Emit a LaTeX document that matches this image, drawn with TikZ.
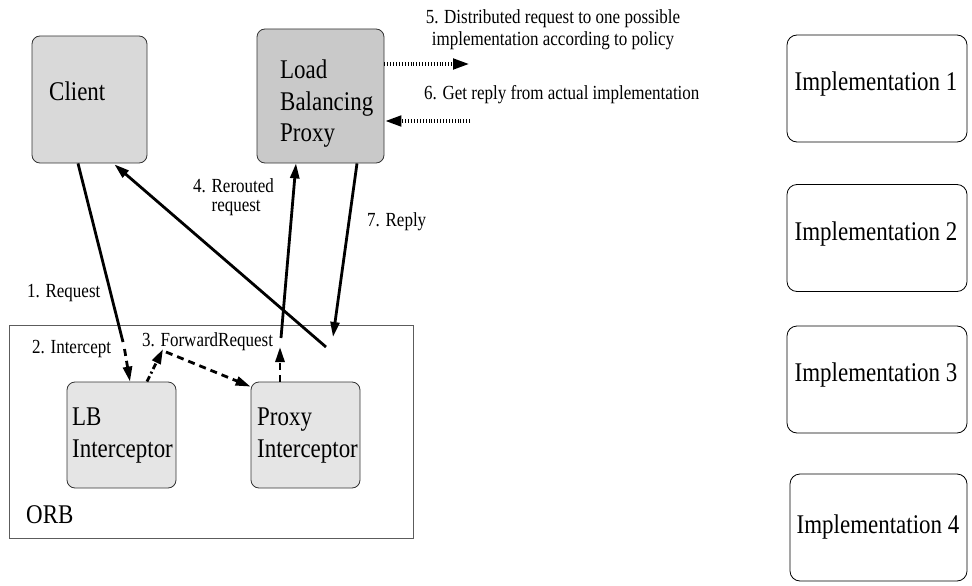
\documentclass[tikz,border=0pt]{standalone}
\usepackage{fontspec}
\setmainfont{Liberation Serif}[FakeStretch=0.85]
\usetikzlibrary{arrows.meta,calc}

\newcommand\bigtxt{\fontsize{27}{31.5}\selectfont}
\newcommand\smalltxt{\fontsize{20}{18.5}\selectfont}

\definecolor{clientfill}{HTML}{D9D9D9}
\definecolor{proxyfill}{HTML}{C9C9C9}
\definecolor{icptfill}{HTML}{E5E5E5}
\definecolor{edge}{HTML}{333333}

\tikzset{
  box/.style={draw=edge, line width=0.8pt, rounded corners=8pt, inner sep=0pt},
  implbox/.style={draw=black, line width=0.8pt, fill=white, rounded corners=10pt,
    minimum width=180pt, minimum height=107pt, inner sep=0pt},
  bigtext/.style={font=\bigtxt, inner sep=0pt},
  smalltext/.style={font=\smalltxt, inner sep=0pt},
  flow/.style={line width=2.8pt},
  tip/.style={-{Triangle[length=15pt,width=9pt]}},
  dashflow/.style={flow, dash pattern=on 7pt off 5pt},
  dashdotflow/.style={flow, dash pattern=on 6pt off 3pt on 2pt off 3pt},
  dotflow/.style={line width=4.5pt, dash pattern=on 0.9pt off 2pt,
    -{Triangle[length=17pt,width=10pt]}},
}

\begin{document}
\begin{tikzpicture}[x=1pt, y=-1pt]
\useasboundingbox (0,0) rectangle (972,586);

% ORB frame
\draw[draw=edge!80, line width=0.8pt] (9,325) rectangle (413,538);
\node[bigtext, anchor=base west] (orb) at (26,523) {ORB};

% client and load balancing proxy
\node[box, fill=clientfill, minimum width=115pt, minimum height=127pt] (client) at (89.5,99.5) {};
\node[bigtext, anchor=base west] (clienttext) at (49,100) {Client};

\node[box, fill=proxyfill, minimum width=127pt, minimum height=134pt] (lbp) at (320.5,96) {};
\node[bigtext, anchor=north west, align=left] (lbptext) at (280,60) {Load\\Balancing\\Proxy};

% interceptors inside the ORB
\node[box, fill=icptfill, minimum width=109pt, minimum height=106pt] (lbi) at (121.5,435) {};
\node[bigtext, anchor=north west, align=left] (lbitext) at (72,408) {LB\\Interceptor};

\node[box, fill=icptfill, minimum width=109pt, minimum height=106pt] (pi) at (305.5,435) {};
\node[bigtext, anchor=north west, align=left] (pitext) at (257,408) {Proxy\\Interceptor};

% implementations
\node[implbox] (impl1) at (877,88.5) {};
\node[bigtext, anchor=base] (impl1text) at (876,90) {Implementation 1};
\node[implbox] (impl2) at (877,238) {};
\node[bigtext, anchor=base] (impl2text) at (876,240) {Implementation 2};
\node[implbox] (impl3) at (877,379.5) {};
\node[bigtext, anchor=base] (impl3text) at (876,381) {Implementation 3};
\node[implbox, minimum width=177pt] (impl4) at (878.5,527.5) {};
\node[bigtext, anchor=base] (impl4text) at (878,533) {Implementation 4};

% helper points along the message path
\coordinate (reqbreak) at (123,342);
\coordinate (reqresume) at (124.5,349);
\coordinate (fwd) at (163,349);
\coordinate (fwdstart) at (166,352);
\coordinate (reroute) at (280,347);
\coordinate (rerouteup) at (281,338);
\coordinate (replyend) at (333,337);
\coordinate (backstart) at (326,347);
\coordinate (out5) at (470,64);
\coordinate (in6) at (470,121);

% 1. request and 2. intercept
\draw[flow] ([xshift=-11.5pt]client.south) -- (reqbreak);
\draw[dashflow, tip] (reqresume) -- ([xshift=8.5pt]lbi.north);

% 3. forward request
\draw[dashdotflow, tip] ([xshift=25.5pt]lbi.north) -- (fwd);
\draw[dashflow, tip] (fwdstart) -- ([yshift=-5pt]pi.north west);

% 4. rerouted request
\draw[dashflow, tip] ([xshift=-25.5pt]pi.north) -- (reroute);
\draw[flow, tip] (rerouteup) -- ([xshift=-24.5pt]lbp.south);

% 7. reply and the answer back to the client
\draw[flow, tip] ([xshift=36.5pt]lbp.south) -- (replyend);
\draw[flow, tip] (backstart) -- ([xshift=-33pt, yshift=-1pt]client.south east);

% 5. and 6. exchange with the implementations
\draw[dotflow] ([yshift=32pt]lbp.east) -- (out5);
\draw[dotflow] (in6) -- ([yshift=-25pt]lbp.east);

% step labels
\node[smalltext, anchor=base west] (l1) at (27,297.5) {1. Request};
\node[smalltext, anchor=base west] (l2) at (32,353) {2. Intercept};
\node[smalltext, anchor=base west] (l3) at (142,346.5) {3. ForwardRequest};
\node[smalltext, anchor=north west, align=left] (l4) at (193,178.5) {4. Rerouted\\\hphantom{4. }request};
\node[smalltext, anchor=north, align=center, font=\fontsize{20}{22.6}\selectfont] (l5) at (553,9) {5. Distributed request to one possible\\implementation according to policy};
\node[smalltext, anchor=base west] (l6) at (424,99.5) {6. Get reply from actual implementation};
\node[smalltext, anchor=base west] (l7) at (367,226.5) {7. Reply};
\end{tikzpicture}
\end{document}
